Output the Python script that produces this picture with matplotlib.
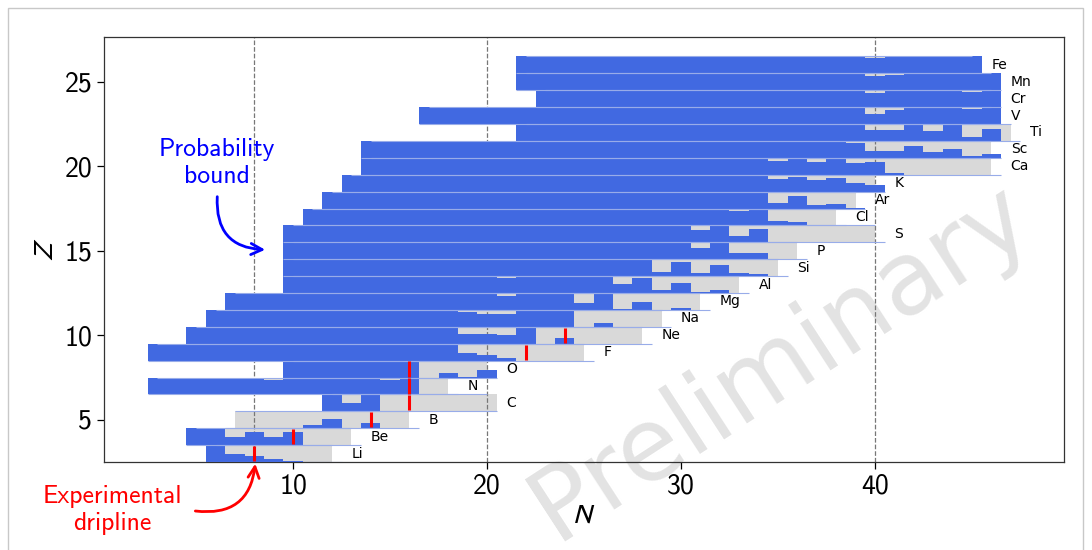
import matplotlib
matplotlib.use("Agg")
import matplotlib.pyplot as plt
from matplotlib.patches import Rectangle
import numpy as np

plt.rcParams["axes.unicode_minus"] = False
plt.rcParams["mathtext.fontset"] = "stixsans"

# --- data -------------------------------------------------------------
elements = ["Li", "Be", "B", "C", "N", "O", "F", "Ne", "Na", "Mg", "Al", "Si",
            "P", "S", "Cl", "Ar", "K", "Ca", "Sc", "Ti", "V", "Cr", "Mn", "Fe"]
proton_numbers = list(range(3, 27))
first_neutron = [6, 5, 7, 12, 3, 10, 3, 5, 6, 7, 10, 10,
                 10, 10, 11, 12, 13, 14, 14, 22, 17, 23, 22, 22]
# upper N edge of the grey (computed) region of each isotope chain
grey_end = [12, 13, 16, 20.5, 18, 20, 25, 28, 29, 31, 33, 35,
            36, 40, 38, 39, 40, 46, 46, 47, 46, 46, 46, 45]

# probability of being bound, one value per N starting at first_neutron
prob_Li = [1, 0.45, 0.35, 0.15, 0.05, 0, 0]
prob_Be = [1, 1, 0.5, 0.78, 0.5, 0.8, 0, 0, 0]
prob_B = [0, 0, 0, 0, 0.2, 0.55, 0, 0.3, 0, 0]
prob_C = [1, 0.5, 1, 0, 0, 0, 0, 0, 0]
prob_N = [1] * 6 + [0.88] + [1] * 5 + [0.85, 1, 0, 0]
prob_O = [1] * 7 + [0, 0.25, 0.05, 0.45]
prob_F = [1] * 16 + [0.45, 0.35, 0.15, 0, 0, 0, 0]
prob_Ne = [1] * 12 + [0.92, 1, 0.55, 0.6, 0.5, 0.95, 0, 0.35, 0, 0, 0, 0]
prob_Na = [1] * 13 + [0.9, 0.75, 0.75, 1, 1, 1, 0, 0.2, 0, 0, 0]
prob_Mg = [1] * 13 + [0.93, 0.82, 1, 0.92, 1, 0.42, 1, 0.03, 0.45, 0, 0.1, 0]
prob_Al = [1] * 11 + [0.9, 1, 0.93, 1, 0.93, 1, 0.55, 0.88, 0.2, 0.6, 0.08, 0.15, 0]
prob_Si = [1] * 11 + [0.93, 1, 0.93, 1, 0.93, 1, 0.95, 1, 0.25, 0.85, 0.2, 0.67,
                      0.2, 0.1, 0]
prob_P = [1] * 11 + [0.95] + [1] * 9 + [0.65, 1, 0.35, 0.35, 0, 0]
prob_S = [1] * 11 + [0.95] + [1] * 9 + [0.75, 1, 0.4, 0.8, 0, 0, 0, 0, 0, 0]
prob_Cl = [1] * 22 + [0.87, 1, 0.25, 0.2, 0, 0]
prob_Ar = [1] * 21 + [0.9, 1, 0.3, 0.75, 0.2, 0.25, 0.05]
prob_K = [1] * 22 + [0.72, 0.87, 0.7, 0.78, 0.5, 0.42]
prob_Ca = [1] * 21 + [0.83, 1, 0.78, 1, 0.72, 0.78, 0.08, 0, 0, 0, 0, 0]
prob_Sc = [1] * 25 + [0.87, 0.42, 0.42, 0.7, 0.35, 0.55, 0.12, 0.2]
prob_Ti = [1] * 17 + [0.92, 0.62, 0.64, 1, 0.6, 1, 0.22, 0.68, 0]
prob_V = [1] * 23 + [0.62, 0.82, 1, 1, 1, 0.9, 1]
prob_Cr = [1] * 17 + [0.82, 0.95, 1, 1, 1, 0.92, 1]
prob_Mn = [1] * 18 + [0.82, 0.93, 1, 1, 1, 1, 1]
prob_Fe = [1] * 18 + [0.92, 1, 1, 1, 1, 1]

probabilities = [prob_Li, prob_Be, prob_B, prob_C, prob_N, prob_O, prob_F,
                 prob_Ne, prob_Na, prob_Mg, prob_Al, prob_Si, prob_P, prob_S,
                 prob_Cl, prob_Ar, prob_K, prob_Ca, prob_Sc, prob_Ti, prob_V,
                 prob_Cr, prob_Mn, prob_Fe]

# last observed isotopes (experimental dripline)
dripline_N = [8, 10, 14, 16, 16, 16, 22, 24]
dripline_Z = [3, 4, 5, 6, 7, 8, 9, 10]

magic_N = [8, 20, 40]

# --- figure -----------------------------------------------------------
BLUE = "#4169e1"
LIGHT_BLUE = "#98ace9"
GREY = "#d9d9d9"
TICK_FONT = "cmss10"

fig = plt.figure(figsize=(10.92, 5.5), dpi=100)
# thin slide frame around the graphic
fig.patches.append(Rectangle((8 / 1092, -0.1), 1075 / 1092, 1.1 - 8 / 550,
                             transform=fig.transFigure, fill=False,
                             edgecolor="#c8c8c8", lw=1.0, zorder=-2))
ax = fig.add_axes([104 / 1092, 1 - 462 / 550, 960 / 1092, 425 / 550])
ax.patch.set_alpha(0)

for name, z, n0, g_hi, probs in zip(elements, proton_numbers, first_neutron,
                                    grey_end, probabilities):
    p = np.asarray(probs, dtype=float)
    n = np.arange(n0, n0 + len(p))
    n_last = n[-1]
    # grey band: region covered by the calculation
    ax.fill_between([n0, g_hi], z - 0.5, z + 0.5, color=GREY, lw=0, zorder=1)
    # blue steps: probability of being bound
    edges = np.append(n - 0.5, n_last + 0.5)
    ax.fill_between(edges, z - 0.5, z - 0.5 + np.append(p, p[-1]),
                    step="post", color=BLUE, lw=0, zorder=3)
    ax.hlines(z - 0.5, n0 - 0.5, n_last + 0.5, color=LIGHT_BLUE, lw=0.8, zorder=4)
    ax.hlines(z + 0.5, n0, n_last, color=LIGHT_BLUE, lw=0.8, zorder=4)
    ax.text(n_last + 1, z, name, fontsize=10, va="center", ha="left",
            family="DejaVu Sans", zorder=6)

for nm in magic_N:
    ax.axvline(nm, color="#777777", ls="--", lw=0.9, zorder=2)

ax.vlines(dripline_N, np.array(dripline_Z) - 0.45, np.array(dripline_Z) + 0.45,
          color="red", lw=2.2, zorder=5)

ax.set_xlim(0.25, 49.75)
ax.set_ylim(2.5, 27.65)
ax.set_xticks([10, 20, 30, 40])
ax.set_yticks([5, 10, 15, 20, 25])
ax.tick_params(labelsize=20, length=5, width=0.9)
for lab in ax.get_xticklabels() + ax.get_yticklabels():
    lab.set_fontfamily(TICK_FONT)
ax.set_xlabel("$N$", fontsize=20, labelpad=1)
ax.set_ylabel("$Z$", fontsize=20, labelpad=4)
for sp in ax.spines.values():
    sp.set_linewidth(0.9)
    sp.set_color("#333333")

# annotations
ax.text(6.09, 20.2, "Probability\nbound", color="#0000ff", fontsize=18.5,
        family=TICK_FONT, ha="center", va="center", zorder=7)
ax.annotate("", xy=(8.56, 15.06), xytext=(6.09, 18.2),
            arrowprops=dict(arrowstyle="->", color="#0000ff", lw=2,
                            connectionstyle="arc3,rad=0.5",
                            shrinkA=0, shrinkB=0, mutation_scale=20),
            annotation_clip=False, zorder=7)

ax.text(0.68, -0.33, "Experimental\ndripline", color="#ff0000", fontsize=18.5,
        family=TICK_FONT, ha="center", va="center", zorder=7)
ax.annotate("", xy=(8.05, 2.4), xytext=(4.96, -0.4),
            arrowprops=dict(arrowstyle="->", color="#ff0000", lw=2,
                            connectionstyle="arc3,rad=0.5",
                            shrinkA=0, shrinkB=0, mutation_scale=20),
            annotation_clip=False, zorder=7)

# watermark sits underneath the (transparent) axes
fig.text(780 / 1092, 1 - 362 / 550, "Preliminary", rotation=33, fontsize=73,
         color="#e3e3e3", ha="center", va="center", family="DejaVu Sans",
         zorder=-1)

fig.savefig("out.png", dpi=100)
